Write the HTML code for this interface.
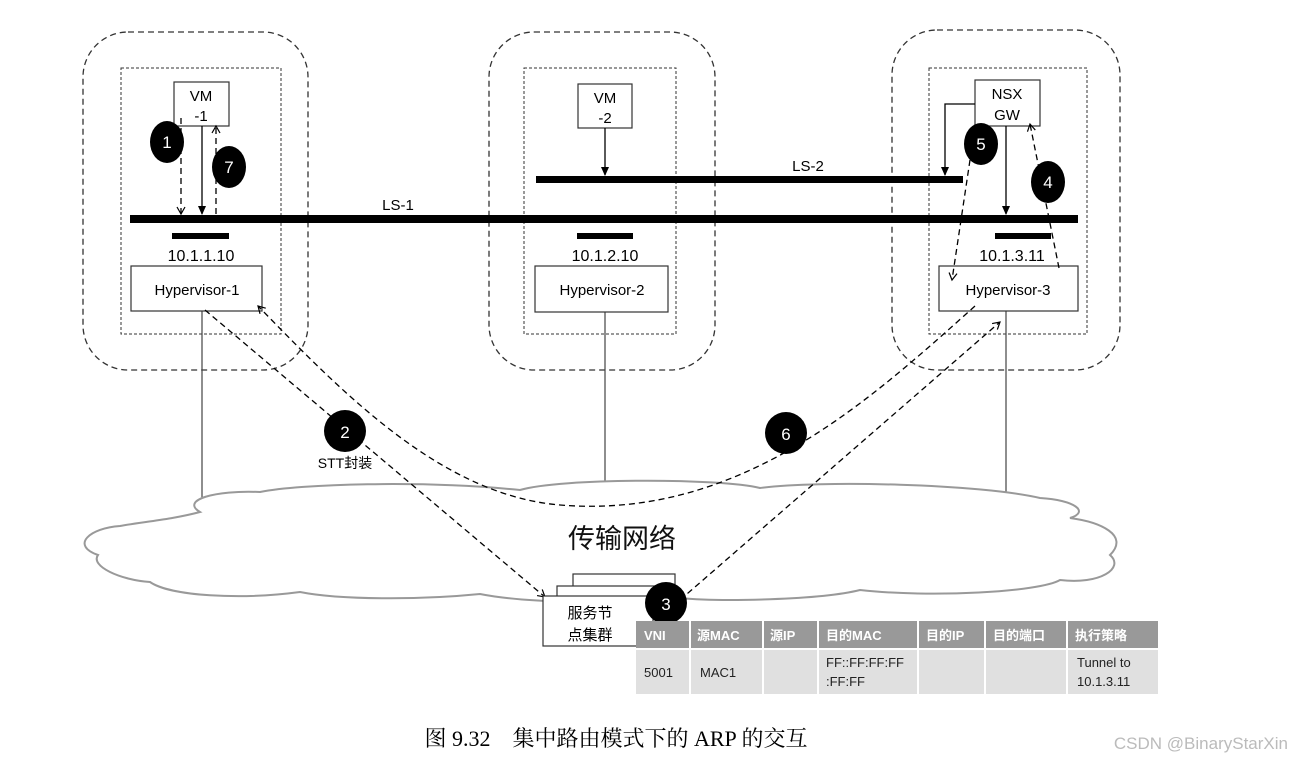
<!DOCTYPE html>
<html><head><meta charset="utf-8"><style>
html,body{margin:0;padding:0;background:#fff;}
svg{display:block;font-family:"Liberation Sans","Noto Sans CJK SC",sans-serif;}
</style></head><body>
<svg width="1292" height="764" viewBox="0 0 1292 764" xmlns="http://www.w3.org/2000/svg">
<defs>
<marker id="ah" markerWidth="10" markerHeight="10" refX="8" refY="5" orient="auto" markerUnits="userSpaceOnUse"><path d="M1,1 L8,5 L1,9" fill="none" stroke="#000" stroke-width="1.2"/></marker>
<marker id="as" markerWidth="10" markerHeight="10" refX="8" refY="5" orient="auto" markerUnits="userSpaceOnUse"><path d="M0,1 L9,5 L0,9 Z" fill="#000"/></marker>
</defs>
<g fill="none" stroke="#333" stroke-width="1.3" stroke-dasharray="6,4">
<rect x="83" y="32" width="225" height="338" rx="45"/>
<rect x="489" y="32" width="226" height="338" rx="45"/>
<rect x="892" y="30" width="228" height="340" rx="45"/>
</g>
<g fill="none" stroke="#333" stroke-width="1" stroke-dasharray="3,2">
<rect x="121" y="68" width="160" height="266"/>
<rect x="524" y="68" width="152" height="266"/>
<rect x="929" y="68" width="158" height="266"/>
</g>
<g stroke="#444" stroke-width="1.2">
<line x1="202" y1="311" x2="202" y2="512"/>
<line x1="605" y1="312" x2="605" y2="484"/>
<line x1="1006" y1="311" x2="1006" y2="512"/>
</g>
<path d="M200,512 C180,500 215,490 260,492 C300,484 420,480 520,490 C560,478 720,478 760,488 C820,480 980,484 1040,498 C1075,500 1090,512 1070,518 C1100,522 1130,535 1110,555 C1125,568 1100,585 1060,580 C1040,592 930,598 860,590 C820,600 720,602 680,598 C620,606 520,602 480,594 C420,600 340,600 300,592 C240,600 170,596 150,582 C120,580 90,566 98,555 C70,545 90,528 120,526 C140,522 170,520 200,512 Z" fill="#fff" stroke="#999" stroke-width="2"/>
<text x="622" y="548" font-size="27" text-anchor="middle" fill="#111">传输网络</text>
<rect x="130" y="215" width="948" height="8" fill="#000"/>
<rect x="536" y="176" width="427" height="7" fill="#000"/>
<rect x="172" y="233" width="57" height="6" fill="#000"/>
<rect x="577" y="233" width="56" height="6" fill="#000"/>
<rect x="995" y="233" width="56" height="6" fill="#000"/>
<text x="398" y="210" font-size="15" text-anchor="middle">LS-1</text>
<text x="808" y="171" font-size="15" text-anchor="middle">LS-2</text>
<g font-size="16" text-anchor="middle">
<text x="201" y="261">10.1.1.10</text>
<text x="605" y="261">10.1.2.10</text>
<text x="1012" y="261">10.1.3.11</text>
</g>
<g fill="#fff" stroke="#333" stroke-width="1.2">
<rect x="174" y="82" width="55" height="44"/>
<rect x="578" y="84" width="54" height="44"/>
<rect x="975" y="80" width="65" height="46"/>
<rect x="131" y="266" width="131" height="45"/>
<rect x="535" y="266" width="133" height="46"/>
<rect x="939" y="266" width="139" height="45"/>
</g>
<g font-size="15" text-anchor="middle">
<text x="201" y="101">VM</text><text x="201" y="121">-1</text>
<text x="605" y="103">VM</text><text x="605" y="123">-2</text>
<text x="1007" y="99">NSX</text><text x="1007" y="120">GW</text>
<text x="197" y="295">Hypervisor-1</text>
<text x="602" y="295">Hypervisor-2</text>
<text x="1008" y="295">Hypervisor-3</text>
</g>
<g stroke="#000" stroke-width="1.3" fill="none">
<line x1="202" y1="126" x2="202" y2="214" marker-end="url(#as)"/>
<line x1="605" y1="128" x2="605" y2="175" marker-end="url(#as)"/>
<line x1="1006" y1="126" x2="1006" y2="214" marker-end="url(#as)"/>
<polyline points="975,104 945,104 945,175" marker-end="url(#as)"/>
</g>
<g stroke="#000" stroke-width="1.3" fill="none" stroke-dasharray="6,4">
<line x1="181" y1="118" x2="181" y2="214" marker-end="url(#ah)"/>
<line x1="216" y1="214" x2="216" y2="126" marker-end="url(#ah)"/>
<line x1="970" y1="160" x2="952" y2="280" marker-end="url(#ah)"/>
<line x1="1059" y1="268" x2="1030" y2="124" marker-end="url(#ah)"/>
<line x1="205" y1="310" x2="545" y2="597" marker-end="url(#ah)"/>
<line x1="680" y1="600" x2="1000" y2="322" marker-end="url(#ah)"/>
<path d="M975,306 C870,400 740,520 560,505 C440,495 340,390 258,306" marker-end="url(#ah)"/>
</g>
<g fill="#fff" stroke="#333" stroke-width="1.2">
<rect x="573" y="574" width="102" height="20"/>
<rect x="557" y="586" width="115" height="20"/>
<rect x="543" y="596" width="110" height="50"/>
</g>
<g font-size="15" text-anchor="middle"><text x="590" y="618">服务节</text><text x="590" y="640">点集群</text></g>
<g fill="#000">
<ellipse cx="167" cy="142" rx="17" ry="21"/>
<ellipse cx="229" cy="167" rx="17" ry="21"/>
<ellipse cx="981" cy="144" rx="17" ry="21"/>
<ellipse cx="1048" cy="182" rx="17" ry="21"/>
<circle cx="345" cy="431" r="21"/>
<circle cx="786" cy="433" r="21"/>
<circle cx="666" cy="603" r="21"/>
</g>
<g fill="#fff" font-size="17" text-anchor="middle">
<text x="167" y="148">1</text><text x="229" y="173">7</text><text x="981" y="150">5</text><text x="1048" y="188">4</text>
<text x="345" y="438">2</text><text x="786" y="440">6</text><text x="666" y="610">3</text>
</g>
<text x="345" y="468" font-size="14" text-anchor="middle">STT封装</text>
<rect x="636" y="621" width="522" height="27" fill="#999"/>
<rect x="636" y="650" width="522" height="44" fill="#e0e0e0"/>
<g stroke="#fff" stroke-width="2">
<line x1="690" y1="621" x2="690" y2="694"/><line x1="763" y1="621" x2="763" y2="694"/>
<line x1="818" y1="621" x2="818" y2="694"/><line x1="918" y1="621" x2="918" y2="694"/>
<line x1="985" y1="621" x2="985" y2="694"/><line x1="1067" y1="621" x2="1067" y2="694"/>
</g>
<g fill="#fff" font-size="13" font-weight="bold">
<text x="644" y="640">VNI</text><text x="697" y="640">源MAC</text><text x="770" y="640">源IP</text>
<text x="826" y="640">目的MAC</text><text x="926" y="640">目的IP</text><text x="993" y="640">目的端口</text><text x="1075" y="640">执行策略</text>
</g>
<g fill="#222" font-size="13">
<text x="644" y="677">5001</text><text x="700" y="677">MAC1</text>
<text x="826" y="667">FF::FF:FF:FF</text><text x="826" y="686">:FF:FF</text>
<text x="1077" y="667">Tunnel to</text><text x="1077" y="686">10.1.3.11</text>
</g>
<text x="616" y="746" font-size="22" text-anchor="middle" font-family="Liberation Serif,'Noto Serif CJK SC',serif">图 9.32　集中路由模式下的 ARP 的交互</text>
<text x="1288" y="749" font-size="17" text-anchor="end" fill="#bbb">CSDN @BinaryStarXin</text>
</svg>
</body></html>
